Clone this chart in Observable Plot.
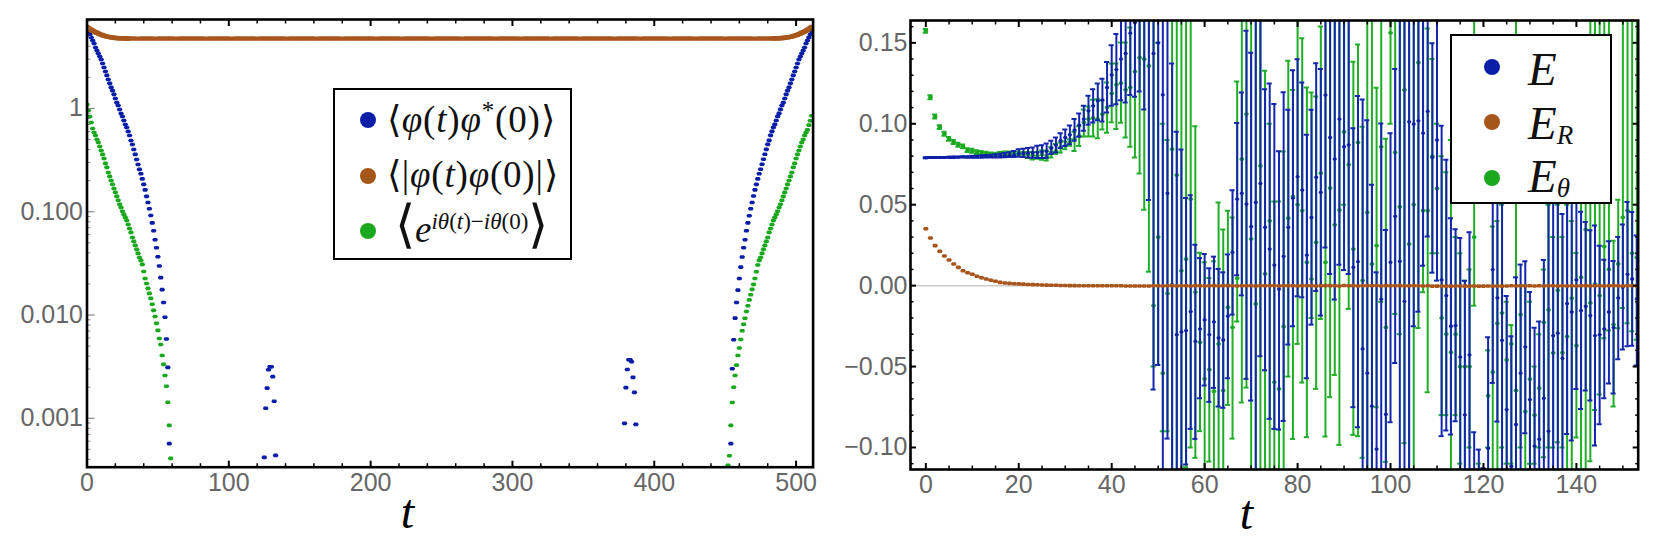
<!DOCTYPE html>
<html>
<head>
<meta charset="utf-8">
<script src="https://cdn.jsdelivr.net/npm/d3@7"></script>
<script src="https://cdn.jsdelivr.net/npm/@observablehq/plot@0.6"></script>
<style>
  body { margin: 0; background: #fff; }
  #page { position: relative; width: 1656px; height: 546px; overflow: hidden; }
  #left, #right { position: absolute; top: 0; }
  #left { left: 0; }
  #right { left: 828px; }
  .legend { position: absolute; box-sizing: border-box; border: 2.5px solid #000; background: #fff; }
  .row { position: absolute; white-space: nowrap; font-family: "Liberation Serif", serif; color: #111; }
  .swatch { position: absolute; width: 16px; height: 16px; border-radius: 50%; }
  .row i { font-style: italic; }
  sup, sub { line-height: 0; }
</style>
</head>
<body>
<div id="page">
  <div id="left"></div>
  <div id="right"></div>
  <div class="legend" style="left:333px;top:88px;width:239px;height:172px">
    <span class="swatch" style="left:25px;top:22px;background:#0b1ea8"></span>
    <span class="swatch" style="left:25px;top:78px;background:#a5561a"></span>
    <span class="swatch" style="left:25px;top:133px;background:#1aa81e"></span>
    <div class="row" style="left:52px;top:8px;font-size:37px;letter-spacing:.8px">⟨<i>φ</i>(<i>t</i>)<i>φ</i><sup style="font-size:25px">*</sup>(0)⟩</div>
    <div class="row" style="left:52px;top:63px;font-size:37px;letter-spacing:.8px">⟨|<i>φ</i>(<i>t</i>)<i>φ</i>(0)|⟩</div>
    <div class="row" style="left:60px;top:104px;font-size:37px"><span style="font-size:52px">⟨</span><i>e</i><sup style="font-size:23px"><i>iθ</i>(<i>t</i>)−<i>iθ</i>(0)</sup><span style="font-size:52px">⟩</span></div>
  </div>
  <div class="legend" style="left:1450px;top:34px;width:162px;height:170px">
    <span class="swatch" style="left:32px;top:23px;background:#0b1ea8"></span>
    <span class="swatch" style="left:32px;top:78px;background:#a5561a"></span>
    <span class="swatch" style="left:32px;top:134px;background:#1aa81e"></span>
    <div class="row" style="left:76px;top:6px;font-size:47px"><i>E</i></div>
    <div class="row" style="left:76px;top:60px;font-size:47px"><i>E</i><sub style="font-size:27px;vertical-align:-5px"><i>R</i></sub></div>
    <div class="row" style="left:76px;top:113px;font-size:47px"><i>E</i><sub style="font-size:27px;vertical-align:-5px"><i>θ</i></sub></div>
  </div>
</div>
<script>
// ---- left panel: correlators against t
const blueLeft = [5.82,5.56,5.20,4.87,4.55,4.26,3.90,3.64,3.41,3.19,2.98,2.73,2.49,2.28,2.09,1.91,1.75,1.60,1.49,1.37,
  1.25,1.14,1.07,.978,.895,.837,.765,.700,.655,.599,.548,.490,.448,.401,.359,.321,.287,.257,
  .233,.208,.184,.163,.141,.123,.107,.092,.078,.0655,.0536,.0448,.0367,.0298,.0230,.0176,.0132,.0095,.00585,.00311,.000568];
const blueBumpA = [.000418,.00125,.00196,.00295,.00316,.00316,.00253,.00146,.000437];
const blueBumpB = [.000893,.00198,.00297,.00369,.00369,.00353,.00249,.00178,.000873];
const blueRight = [.000568,.00302,.00577,.00933,.0132,.0174,.0226,.0291,.0364,.0448,.0536,.0655,.078,.0915,.107,.123,.142,.163,.184,.208,.233,
  .258,.288,.322,.360,.402,.449,.491,.549,.600,.656,.701,.766,.838,.896,.979,1.07,1.14,1.25,1.37,1.49,
  1.60,1.75,1.91,2.09,2.28,2.49,2.73,2.98,3.19,3.41,3.64,3.90,4.26,4.55,4.87,5.20,5.56];
const greenLeft = [1.09,.956,.837,.732,.640,.586,.548,.501,.469,.429,.392,.359,.328,.294,.269,.240,.220,.201,.184,.168,
  .154,.141,.129,.118,.110,.101,.0942,.0881,.0824,.0753,.0689,.0631,.0564,.0516,.0472,.0432,.0395,.0361,.0338,.0309,
  .0264,.0226,.0202,.0181,.0162,.0145,.0127,.0111,.00969,.00830,.00710,.00593,.00519,.00406,.00333,.00260,.00204,.00143,.000853,.000409];
const greenRight = [.00035,.000434,.000853,.00142,.00200,.00260,.00327,.00406,.00480,.00580,.00703,.00815,.00930,.0108,.0123,.0140,.0157,.0177,.0198,.0226,
  .0262,.0305,.0338,.0361,.0395,.0432,.0472,.0516,.0564,.0631,.0689,.0753,.0824,.0881,.0942,.101,.110,.118,.129,.141,
  .154,.168,.184,.201,.220,.240,.269,.294,.328,.359,.392,.429,.469,.501,.548,.586,.62,.69,.76,.85];
const orangeLeft = [6.15,6.02,5.88,5.75,5.65,5.56,5.48,5.41,5.32,5.25,5.18,5.11,5.07,5.02,4.98,4.94,4.91,4.88,4.86,4.83,
  4.82,4.81,4.80,4.79,4.78,4.78,4.77,4.77,4.76,4.76];
const orangeFlat = [4.76,4.76,4.75,4.76,4.76,4.76,4.75,4.76,4.76,4.76,4.76,4.75,4.76,4.76,4.76,
  4.76,4.76,4.76,4.75,4.76,4.76,4.76,4.76,4.76,4.75,4.76,4.76,4.76,4.76,4.76,
  4.75,4.76,4.76,4.76,4.76,4.76,4.76,4.75,4.76,4.76,4.76,4.76,4.76,4.76,4.75,
  4.76,4.76,4.76,4.76,4.76,4.75,4.76,4.76,4.76,4.76,4.76,4.76,4.76,4.75,4.76,
  4.76,4.76,4.76,4.76,4.75,4.76,4.76,4.76,4.76,4.76,4.76,4.75,4.76,4.76,4.76,
  4.76,4.76,4.76,4.75,4.76,4.76,4.76,4.76,4.76,4.76,4.76,4.75,4.76,4.76,4.76,
  4.76,4.76,4.75,4.76,4.76,4.76,4.76,4.76,4.76,4.75,4.76,4.76,4.76,4.76,4.76,
  4.76,4.75,4.76,4.76,4.76,4.76,4.76,4.76,4.76,4.75,4.76,4.76,4.76,4.76,4.76,
  4.75,4.76,4.76,4.76,4.76,4.76,4.76,4.75,4.76,4.76,4.76,4.76,4.76,4.75,4.76,
  4.76,4.76,4.76,4.76,4.76,4.75,4.76,4.76,4.76,4.76,4.76,4.76,4.75,4.76,4.76,4.76];
const orangeRight = [4.76,4.77,4.77,4.78,4.78,4.79,4.80,4.81,4.82,4.83,4.86,4.88,4.91,4.94,4.98,5.02,5.07,5.11,5.18,5.25,
  5.32,5.41,5.48,5.56,5.65,5.75,5.88,6.02,6.15];

const leftMajorY = [1, 0.1, 0.01, 0.001];
const leftLabelsY = ["1", "0.100", "0.010", "0.001"];
const leftMinorY = [7,6,5,4,3,2,.9,.8,.7,.6,.5,.4,.3,.2,.09,.08,.07,.06,.05,.04,.03,.02,
  .009,.008,.007,.006,.005,.004,.003,.002,.0009,.0008,.0007,.0006,.0005,.0004];
const leftMajorX = [0, 100, 200, 300, 400, 500];
const leftMinorX = [20,40,60,80,120,140,160,180,220,240,260,280,320,340,360,380,420,440,460,480];

// ---- right panel: energy estimators with errors, index is t
const blueMean = [.0790,.0791,.0791,.0792,.0792,.0793,.0793,.0794,.0795,.0795,
  .0796,.0796,.0797,.0798,.0799,.0800,.0801,.0802,.0804,.0806,
  .0815,.0817,.0819,.0821,.0823,.0826,.0830,.0850,.0868,.0895,
  .0915,.0932,.0961,.0992,.1029,.1080,.1111,.1142,.1146,.1224,
  .1302,.1335,.1399,.1434,.1560,.1625,.1700,.1750,.1690,.1434,
  .1500,.1179,.0570,.0006,-.0303,-.0286,-.0278,-.0161,-.0344,-.0268,
  -.0212,-.0303,-.0224,-.0323,-.0336,-.0189,.0205,.0535,.0570,.0504,
  .0364,.0514,.0631,.0360,.0226,.0127,-.0021,.0181,.0360,.0541,
  .0673,.0590,.0189,.0421,.0669,.0576,.1177,.0915,.0782,.1029,
  .0858,.0870,.0113,.0148,-.0391,-.0541,-.0745,-.1010,-.0084,-.0796,
  .0144,.0428,.0150,-.0097,.1012,.0998,.1018,.0942,.1076,.0792,
  .0899,.0035,-.0062,-.0251,-.0247,-.0442,-.0799,-.0428,-.125,-.125,
  -.135,-.1005,.0099,-.0076,-.0338,-.0766,-.1117,-.0858,-.0541,-.0379,
  -.0704,-.0992,-.0949,-.0696,-.0899,-.0309,-.0294,-.0449,-.0111,-.0163,
  .0035,-.0154,-.0128,-.0185,-.0309,-.0303,-.0268,-.0163,-.0259,-.0076,
  -.0010,.0070,.0041,-.0082];
const blueHi = [.0793,.0794,.0794,.0795,.0795,.0796,.0797,.0798,.0799,.0800,
  .0802,.0803,.0805,.0807,.0809,.0812,.0815,.0819,.0824,.0832,
  .0843,.0846,.0850,.0854,.0864,.0868,.0878,.0895,.0915,.0942,
  .0965,.0990,.1029,.1064,.1111,.1173,.1214,.1249,.1278,.1381,
  .1485,.1555,.175,.19,.20,.21,.23,.25,.29,.35,
  .33,.30,.25,.1372,.0950,.0841,.0541,.0559,.0253,.0170,
  .0195,.0107,.0179,.0103,.0082,.0193,.0590,.1004,.1193,.1574,
  .1438,.22,.19,.1214,.1249,.1122,.0830,.1195,.1086,.1331,
  .1399,.1255,.0932,.1086,.1374,.1339,.24,.21,.18,.22,
  .19,.20,.0973,.1171,.1150,.1022,.0623,.0082,.1002,.0343,
  .0942,.1339,.18,.17,.26,.29,.27,.25,.28,.1498,
  .19,.0987,.0778,.0417,.0349,.0294,.0030,.0329,-.0906,-.1013,
  -.1128,-.0319,.09,.10,.11,-.0064,-.0313,.0051,.0130,.0150,
  -.0039,-.0261,-.0222,.0158,.10,.09,.08,.0442,.12,.11,
  .10,.0457,.0393,.0342,.0372,.0247,.0160,.0274,.0152,.0300,
  .0377,.0516,.0455,.0309];
const blueLo = [.0787,.0788,.0788,.0789,.0789,.0790,.0789,.0790,.0791,.0790,
  .0790,.0790,.0790,.0791,.0791,.0791,.0792,.0793,.0794,.0795,
  .0796,.0794,.0792,.0790,.0788,.0788,.0788,.0813,.0823,.0850,
  .0862,.0874,.0895,.0920,.0957,.0994,.1008,.1022,.1014,.1070,
  .1111,.1121,.1146,.1132,.1177,.1167,.1199,.1088,.0529,-.0642,
  -.0490,-.13,-.0945,-.13,-.14,-.14,-.1105,-.0885,-.0947,-.0696,
  -.0617,-.0718,-.0632,-.0747,-.0755,-.0572,-.0179,.0064,-.0060,-.0576,
  -.0710,-.12,-.0436,-.0523,-.0823,-.0885,-.0889,-.0836,-.0364,-.0251,
  -.0066,-.0072,-.0572,-.0241,-.0033,-.0185,.0236,.0072,-.0086,.0129,
  .0096,.0072,-.0751,-.0875,-.16,-.17,-.19,-.21,-.12,-.18,
  -.0844,-.0478,-.13,-.14,-.12,-.0251,-.0161,.0123,.0304,.0080,
  .0031,-.0930,-.0895,-.0920,-.0838,-.12,-.14,-.13,-.16,-.15,
  -.16,-.17,-.0601,-.0840,-.13,-.15,-.19,-.17,-.12,-.0912,
  -.14,-.17,-.17,-.15,-.18,-.15,-.14,-.13,-.0916,-.0957,
  -.0638,-.0762,-.0648,-.0710,-.0988,-.0856,-.0696,-.0605,-.0667,-.0455,
  -.0395,-.0375,-.0371,-.0494];
const greenMean = [.1574,.1164,.1045,.0979,.0938,.0907,.0887,.0870,.0860,.0837,
  .0833,.0825,.0819,.0815,.0811,.0809,.0813,.0817,.0817,.0817,
  .0817,.0809,.0809,.0804,.0802,.0809,.0802,.0823,.0833,.0854,
  .0864,.0885,.0905,.0925,.1008,.1029,.1035,.1029,.1060,.1101,
  .1187,.1241,.1251,.1210,.1224,.1323,.1409,.1399,.1358,-.0124,
  .0300,-.0541,-.0048,.0843,.0683,.0092,.0164,.0535,-.0041,-.0350,
  -.0576,-.0519,-.0653,-.0360,-.0648,-.0134,-.0258,.0045,.0782,.1060,
  .0288,-.0113,.0740,.0072,.0400,-.0597,-.0638,-.0253,.0417,.0550,
  .0500,.0463,.0144,.0041,.0267,.0695,.0144,.0603,.0376,.0467,
  .0950,.0747,.0226,.0885,.0031,.0452,.0133,.0247,.0858,-.0258,
  .1562,.0823,.0487,.1210,.0257,.0500,.1378,.0463,.0463,.0800,
  .0600,-.0200,-.0300,-.0412,-.0300,-.0500,-.0500,-.0500,.0300,-.1300,
  -.1400,-.0680,-.0535,-.0233,-.0169,-.0459,-.0360,-.0648,-.0179,-.0778,
  -.0578,-.0800,-.0634,-.0227,-.0150,-.0416,-.0029,-.0414,-.0315,-.0078,
  -.0371,.0051,.0346,-.0107,.0010,-.0062,.0241,.0100,-.0241,.0134,
  .0422,.0463,.0200,.0175];
const greenHi = [.1586,.1176,.1057,.0991,.0950,.0919,.0899,.0882,.0872,.0849,
  .0845,.0837,.0831,.0827,.0823,.0821,.0825,.0829,.0829,.0829,
  .0829,.0825,.0825,.0825,.0825,.0835,.0835,.0855,.0875,.0885,
  .0890,.0905,.0950,.0985,.1088,.1107,.1148,.1152,.1146,.1255,
  .1372,.1372,.1502,.1502,.1595,.19,.20,.21,.22,.20,
  .15,.10,.09,.21,.20,.19,.18,.17,.0985,.0203,
  .0144,.0047,.0150,.0514,.0347,.0463,.0421,.1261,.19,.18,
  .20,.20,.17,.1327,.10,.0520,.0520,.0829,.1389,.1208,
  .19,.1529,.1224,.1193,.1168,.1601,.19,.19,.20,.19,
  .20,.19,.1383,.149,.0981,.20,.19,.1222,.20,.0907,
  .21,.22,.19,.20,.19,.20,.20,.19,.1588,.14,
  .10,.08,.07,.09,.03,.02,.003,.01,.19,-.11,
  -.12,-.04,.0366,.04,.05,-.01,-.0244,.20,.0,.0,
  -.01,-.05,-.03,.01,.05,.03,.05,.03,.05,.04,
  .0202,.08,.09,.20,.20,.20,.20,.20,.0278,.0531,
  .20,.20,.20,.20];
const greenLo = [.1562,.1152,.1033,.0967,.0926,.0895,.0875,.0858,.0848,.0825,
  .0821,.0813,.0807,.0803,.0799,.0797,.0801,.0805,.0805,.0805,
  .0805,.0795,.0788,.0780,.0784,.0778,.0773,.0792,.0813,.0823,
  .0843,.0864,.0831,.0862,.0922,.0922,.0922,.0911,.0965,.0944,
  .1010,.0967,.1006,.0915,.0858,.0792,.0693,.0469,.0086,-.05,
  -.0490,-.09,-.09,-.12,-.13,-.12,-.1122,-.10,-.1064,-.0899,
  -.14,-.1087,-.13,-.13,-.14,-.0737,-.0945,-.0222,-.0722,-.0630,
  -.15,-.14,-.13,-.14,-.13,-.16,-.15,-.13,-.0562,-.0947,
  -.0360,-.0599,-.0936,-.02,-.0638,-.0206,-.0932,-.0689,-.0552,-.0984,
  .05,-.0144,-.0922,-.0930,-.1064,-.14,-.15,-.0751,-.0100,-.1089,
  .10,-.0175,-.03,-.0973,-.14,-.13,-.0262,-.0041,-.0659,.02,
  .02,-.08,-.08,-.13,-.08,-.11,-.12,-.10,-.0124,-.16,
  -.17,-.10,-.15,-.15,-.10,-.11,-.11,-.14,-.10,-.15,
  -.11,-.11,-.10,-.1060,-.10,-.10,-.0967,-.10,-.13,-.13,
  -.0939,-.13,-.13,-.1085,-.0768,-.0673,-.0325,-.0278,-.0747,-.0264,
  -.0138,-.0233,-.0282,-.0334];
const orangeMean = [.0351,.0294,.0247,.0212,.0183,.0158,.0134,.0113,.0092,.0080,
  .0070,.0058,.0049,.0041,.0033,.0027,.0020,.0016,.0014,.0012,
  .0011,.0009,.0007,.0006,.0005,.0004,.0003,.0002,.0002,.0001,
  .0001,.0000,.0000,-.0001,-.0001,-.0001,-.0001,-.0001,-.0001,-.0001,
  -.0001,-.0001,-.0001,-.0002,-.0002,-.0002,-.0002,-.0002,-.0002,-.0001,
  -.0001,-.0002,-.0001,.0000,-.0002,-.0001,-.0001,-.0002,.0000,-.0001,
  -.0002,-.0001,.0000,-.0002,-.0001,.0000,-.0001,-.0002,-.0001,-.0001,
  .0000,-.0002,.0000,-.0001,-.0001,.0001,-.0002,-.0001,.0000,-.0001,
  -.0002,.0000,-.0001,.0000,-.0002,-.0001,.0000,.0000,-.0001,-.0002,
  .0001,-.0001,.0000,-.0002,-.0001,.0000,-.0001,.0001,-.0002,.0000,
  -.0001,-.0001,.0000,-.0002,-.0001,.0000,-.0001,-.0002,-.0001,-.0003,
  -.0003,-.0002,-.0003,-.0003,-.0002,-.0002,-.0003,-.0003,-.0002,-.0003,
  -.0003,-.0002,-.0003,-.0002,-.0003,-.0002,-.0001,-.0002,-.0001,-.0002,
  -.0001,-.0002,-.0001,-.0002,-.0001,-.0001,-.0002,-.0001,-.0002,-.0001,
  -.0002,-.0001,.0000,-.0002,-.0001,-.0001,-.0002,-.0001,.0000,-.0001,
  -.0002,-.0001,-.0001,-.0002];
const rightMajorY = [-0.10, -0.05, 0, 0.05, 0.10, 0.15];
const rightLabelsY = ["−0.10", "−0.05", "0.00", "0.05", "0.10", "0.15"];
const rightMinorY = [-.11,-.09,-.08,-.07,-.06,-.04,-.03,-.02,-.01,.01,.02,.03,.04,.06,.07,.08,.09,.11,.12,.13,.14,.16];
const rightMajorX = [0, 20, 40, 60, 80, 100, 120, 140];
const rightMinorX = [5,10,15,25,30,35,45,50,55,65,70,75,85,90,95,105,110,115,125,130,135,145,150];

const BLUE = "#0b1ea8", ORANGE = "#a8561c", GREEN = "#1aa81e";
const BAR_BLUE = "#1426ac", BAR_GREEN = "#20ae28";
const GRAY = "#666";

// flat little marker, the dots in the original are wider than tall
const flatDot = {
  draw(ctx, size) {
    const r = Math.sqrt(size / Math.PI), w = r * 1.6;
    ctx.moveTo(-w, 0);
    ctx.lineTo(-w * 0.6, -r);
    ctx.lineTo(w * 0.6, -r);
    ctx.lineTo(w, 0);
    ctx.lineTo(w * 0.6, r);
    ctx.lineTo(-w * 0.6, r);
    ctx.closePath();
  }
};

const pts = (ts, vals) => ts.map((t, i) => ({t, v: vals[i]}));

const leftPlot = Plot.plot({
  width: 828,
  height: 546,
  marginLeft: 86.5,
  marginRight: 15.4,
  marginTop: 19,
  marginBottom: 79.3,
  style: {background: "#fff", fontFamily: "'Liberation Sans', sans-serif", fontSize: "25px", overflow: "visible"},
  x: {domain: [0, 512]},
  y: {type: "log", domain: [3.36e-4, 7.27]},
  marks: [
    Plot.dot(pts(d3.range(60), greenLeft), {x: "t", y: "v", symbol: flatDot, r: 1.8, fill: GREEN, clip: true}),
    Plot.dot(pts(d3.range(452, 512), greenRight), {x: "t", y: "v", symbol: flatDot, r: 1.8, fill: GREEN, clip: true}),
    Plot.dot(pts(d3.range(59), blueLeft), {x: "t", y: "v", symbol: flatDot, r: 1.8, fill: BLUE, clip: true}),
    Plot.dot(pts(d3.range(125, 134), blueBumpA), {x: "t", y: "v", symbol: flatDot, r: 1.8, fill: BLUE, clip: true}),
    Plot.dot(pts(d3.range(379, 388), blueBumpB), {x: "t", y: "v", symbol: flatDot, r: 1.8, fill: BLUE, clip: true}),
    Plot.dot(pts(d3.range(454, 512), blueRight), {x: "t", y: "v", symbol: flatDot, r: 1.8, fill: BLUE, clip: true}),
    Plot.dot(pts(d3.range(30), orangeLeft), {x: "t", y: "v", symbol: flatDot, r: 2.2, fill: ORANGE, clip: true}),
    Plot.dot(pts(d3.range(30, 481, 3), orangeFlat), {x: "t", y: "v", symbol: flatDot, r: 2.2, fill: ORANGE, clip: true}),
    Plot.dot(pts(d3.range(483, 512), orangeRight), {x: "t", y: "v", symbol: flatDot, r: 2.2, fill: ORANGE, clip: true}),
    Plot.axisX({anchor: "bottom", ticks: leftMinorX, tickSize: -3.5, fill: "none", stroke: "#000", strokeWidth: 1.5, label: null}),
    Plot.axisX({anchor: "top", ticks: leftMinorX, tickSize: -3.5, fill: "none", stroke: "#000", strokeWidth: 1.5, label: null}),
    Plot.axisX({anchor: "bottom", ticks: leftMajorX, tickSize: -6, fill: "none", stroke: "#000", strokeWidth: 2, label: null}),
    Plot.axisX({anchor: "top", ticks: leftMajorX, tickSize: -6, fill: "none", stroke: "#000", strokeWidth: 2, label: null}),
    Plot.axisX({anchor: "bottom", ticks: leftMajorX, tickSize: 0, tickPadding: 6, fill: GRAY, label: null}),
    Plot.axisY({anchor: "left", ticks: leftMinorY, tickSize: -4, fill: "none", stroke: "#888", strokeWidth: 1, label: null}),
    Plot.axisY({anchor: "left", ticks: leftMajorY, tickSize: -8, fill: "none", stroke: "#888", strokeWidth: 1.2, label: null}),
    Plot.axisY({anchor: "left", ticks: leftMajorY, tickSize: 0, tickPadding: 4, fill: GRAY, label: null,
      tickFormat: d => leftLabelsY[leftMajorY.indexOf(d)]}),
    Plot.frame({stroke: "#000", strokeWidth: 2.6}),
    Plot.text(["t"], {x: 226, frameAnchor: "bottom", dy: 61, fontSize: 48, fontStyle: "italic", fontFamily: "'Liberation Serif', serif", fill: "#000"})
  ]
});
document.getElementById("left").append(leftPlot);

const rows = d3.range(154).map(t => ({
  t, blue: blueMean[t], bHi: blueHi[t], bLo: blueLo[t],
  green: greenMean[t], gHi: greenHi[t], gLo: greenLo[t], orange: orangeMean[t]
}));
const CAP = 0.55;

const rightPlot = Plot.plot({
  width: 828,
  height: 546,
  marginLeft: 82,
  marginRight: 18.3,
  marginTop: 20,
  marginBottom: 77,
  style: {background: "#fff", fontFamily: "'Liberation Sans', sans-serif", fontSize: "25px", overflow: "visible"},
  x: {domain: [-3.3, 153.3]},
  y: {domain: [-0.1136, 0.1638]},
  marks: [
    Plot.ruleY([0], {stroke: "#ccc", strokeWidth: 1.5}),
    Plot.ruleX(rows, {x: "t", y1: "gLo", y2: "gHi", stroke: BAR_GREEN, strokeWidth: 2, clip: true}),
    Plot.ruleY(rows, {y: "gHi", x1: d => d.t - CAP, x2: d => d.t + CAP, stroke: BAR_GREEN, strokeWidth: 2, clip: true}),
    Plot.ruleY(rows, {y: "gLo", x1: d => d.t - CAP, x2: d => d.t + CAP, stroke: BAR_GREEN, strokeWidth: 2, clip: true}),
    Plot.dot(rows, {x: "t", y: "green", symbol: flatDot, r: 1.6, fill: GREEN, clip: true}),
    Plot.ruleX(rows, {x: "t", y1: "bLo", y2: "bHi", stroke: BAR_BLUE, strokeWidth: 2, clip: true}),
    Plot.ruleY(rows, {y: "bHi", x1: d => d.t - CAP, x2: d => d.t + CAP, stroke: BAR_BLUE, strokeWidth: 2, clip: true}),
    Plot.ruleY(rows, {y: "bLo", x1: d => d.t - CAP, x2: d => d.t + CAP, stroke: BAR_BLUE, strokeWidth: 2, clip: true}),
    Plot.dot(rows, {x: "t", y: "blue", symbol: flatDot, r: 1.4, fill: BLUE, clip: true}),
    Plot.dot(rows, {x: "t", y: "orange", symbol: flatDot, r: 1.8, fill: ORANGE, clip: true}),
    Plot.axisX({anchor: "bottom", ticks: rightMinorX, tickSize: -3.5, fill: "none", stroke: "#000", strokeWidth: 1.5, label: null}),
    Plot.axisX({anchor: "top", ticks: rightMinorX, tickSize: -3.5, fill: "none", stroke: "#000", strokeWidth: 1.5, label: null}),
    Plot.axisX({anchor: "bottom", ticks: rightMajorX, tickSize: -6, fill: "none", stroke: "#000", strokeWidth: 2, label: null}),
    Plot.axisX({anchor: "top", ticks: rightMajorX, tickSize: -6, fill: "none", stroke: "#000", strokeWidth: 2, label: null}),
    Plot.axisX({anchor: "bottom", ticks: rightMajorX, tickSize: 0, tickPadding: 6, fill: GRAY, label: null}),
    Plot.axisY({anchor: "left", ticks: rightMinorY, tickSize: -3.5, fill: "none", stroke: "#000", strokeWidth: 1.5, label: null}),
    Plot.axisY({anchor: "right", ticks: rightMinorY, tickSize: -3.5, fill: "none", stroke: "#000", strokeWidth: 1.5, label: null}),
    Plot.axisY({anchor: "left", ticks: rightMajorY, tickSize: -6, fill: "none", stroke: "#000", strokeWidth: 2, label: null}),
    Plot.axisY({anchor: "right", ticks: rightMajorY, tickSize: -6, fill: "none", stroke: "#000", strokeWidth: 2, label: null}),
    Plot.axisY({anchor: "left", ticks: rightMajorY, tickSize: 0, tickPadding: 3, fill: GRAY, label: null,
      tickFormat: d => rightLabelsY[rightMajorY.indexOf(d)]}),
    Plot.frame({stroke: "#000", strokeWidth: 2.6}),
    Plot.text(["t"], {x: 69, frameAnchor: "bottom", dy: 59, fontSize: 48, fontStyle: "italic", fontFamily: "'Liberation Serif', serif", fill: "#000"})
  ]
});
document.getElementById("right").append(rightPlot);
</script>
</body>
</html>
